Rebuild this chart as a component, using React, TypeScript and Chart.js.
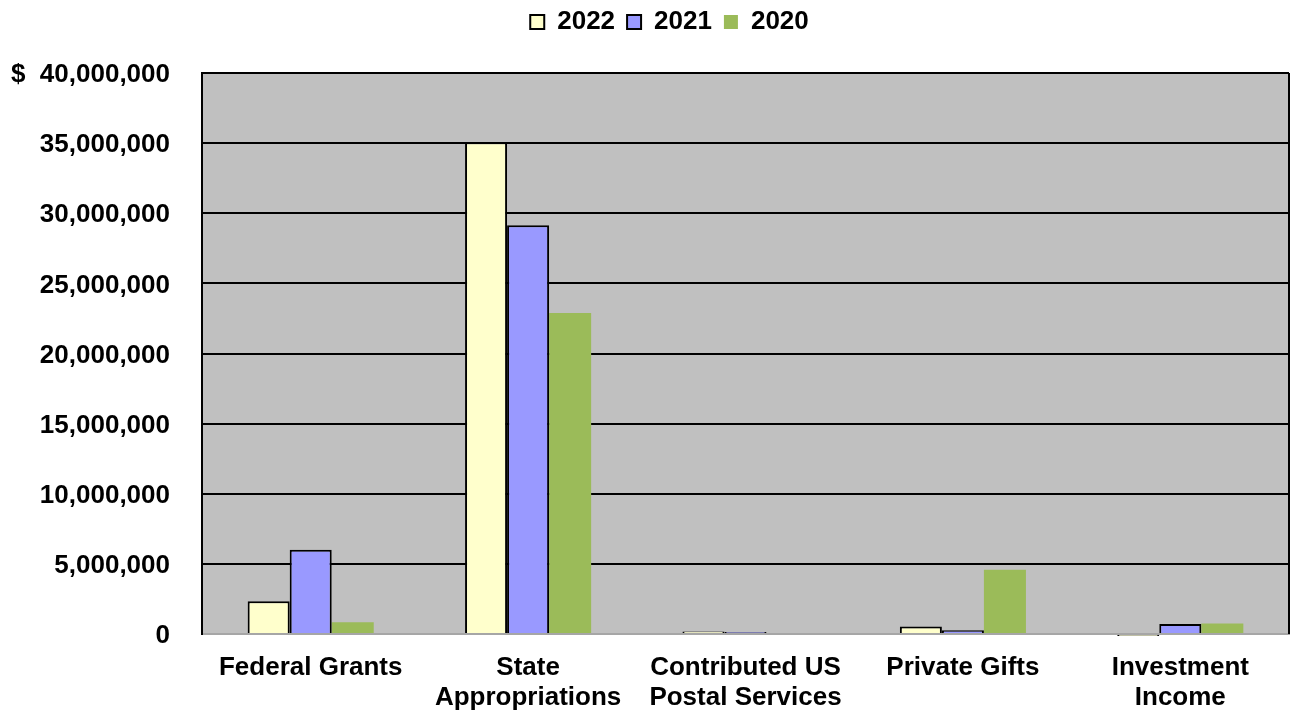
import React, { useEffect, useRef } from "react";
import { Chart, registerables } from "chart.js";

Chart.register(...registerables);

const categories: string[][] = [
  ["Federal Grants"],
  ["State", "Appropriations"],
  ["Contributed US", "Postal Services"],
  ["Private Gifts"],
  ["Investment", "Income"],
];

const series2022: number[] = [2340000, 35070000, 170000, 540000, -150000];
const series2021: number[] = [6010000, 29150000, 140000, 260000, 710000];
const series2020: number[] = [840000, 22880000, 70000, 4590000, 740000];

const yTicks: number[] = [0, 5000000, 10000000, 15000000, 20000000, 25000000, 30000000, 35000000, 40000000];

const FONT = "'Liberation Sans', Arial, Helvetica, sans-serif";

export default function App() {
  const ref = useRef<HTMLCanvasElement | null>(null);

  useEffect(() => {
    document.body.style.margin = "0";
    const canvas = ref.current;
    if (!canvas) return;

    const bgPlugin = {
      id: "plotBg",
      beforeInit(chart: any) {
        const lg = chart.legend;
        if (lg) {
          const origFit = lg.fit;
          lg.fit = function () {
            origFit.call(this);
            this.height = 73;
          };
          const origDraw = lg.draw;
          lg.draw = function () {
            const c = this.ctx;
            c.save();
            c.translate(25, -3);
            origDraw.call(this);
            c.restore();
          };
        }
      },
      beforeDraw(chart: any) {
        const { ctx, chartArea } = chart;
        ctx.save();
        ctx.fillStyle = "#C0C0C0";
        ctx.fillRect(chartArea.left, chartArea.top, chartArea.right - chartArea.left, chartArea.bottom - chartArea.top);
        ctx.restore();
      },
      afterDatasetsDraw(chart: any) {
        const { ctx, chartArea } = chart;
        ctx.save();
        ctx.strokeStyle = "#000";
        ctx.lineWidth = 2;
        ctx.beginPath();
        ctx.moveTo(chartArea.right, chartArea.top);
        ctx.lineTo(chartArea.right, chartArea.bottom);
        ctx.stroke();
        ctx.restore();
      },
    };

    const chart = new Chart(canvas, {
      type: "bar",
      data: {
        labels: categories,
        datasets: [
          {
            label: "2022",
            data: series2022,
            backgroundColor: "#FFFFCC",
            borderColor: "#000000",
            borderWidth: 2,
            clip: false as any,
          },
          {
            label: "2021",
            data: series2021,
            backgroundColor: "#9999FF",
            borderColor: "#000000",
            borderWidth: 2,
            clip: false as any,
          },
          {
            label: "2020",
            data: series2020,
            backgroundColor: "#9BBB59",
            borderColor: "#9BBB59",
            borderWidth: 0,
            clip: false as any,
          },
        ],
      },
      options: {
        animation: false,
        responsive: true,
        maintainAspectRatio: false,
        layout: { padding: { left: 0, right: 3, top: 0, bottom: 0 } },
        datasets: {
          bar: { categoryPercentage: 0.58, barPercentage: 1.0 },
        },
        plugins: {
          legend: {
            position: "top",
            labels: {
              color: "#000",
              font: { family: FONT, size: 26, weight: "bold" },
              boxWidth: 14,
              boxHeight: 14,
              padding: 12,
            },
          },
          tooltip: { enabled: false },
        },
        scales: {
          x: {
            grid: { display: false, drawTicks: false },
            border: { display: true, color: "#A6A6A6", width: 2 },
            ticks: {
              color: "#000",
              font: { family: FONT, size: 26, weight: "bold", lineHeight: 1.15 },
              padding: 19,
              maxRotation: 0,
              autoSkip: false,
            },
            afterFit: (s: any) => {
              s.height = 77;
            },
          },
          y: {
            min: 0,
            max: 40000000,
            afterBuildTicks: (s: any) => {
              s.ticks = yTicks.map((v) => ({ value: v }));
            },
            grid: {
              drawTicks: false,
              color: (c: any) => (c.tick && c.tick.value === 0 ? "rgba(0,0,0,0)" : "#000"),
              lineWidth: 2,
            },
            border: { display: true, color: "#000", width: 2 },
            ticks: {
              color: "#000",
              font: { family: FONT, size: 26, weight: "bold" },
              padding: 32,
              labelOffset: 2,
              callback: (v: any) => {
                const n = Number(v);
                const s = n.toLocaleString("en-US");
                return n === 40000000 ? "$  " + s : s;
              },
            },
            afterFit: (s: any) => {
              s.width = 202;
            },
          },
        },
      },
      plugins: [bgPlugin],
    });

    return () => {
      chart.destroy();
    };
  }, []);

  return (
    <div style={{ position: "relative", width: 1292, height: 711 }}>
      <canvas ref={ref} />
    </div>
  );
}
